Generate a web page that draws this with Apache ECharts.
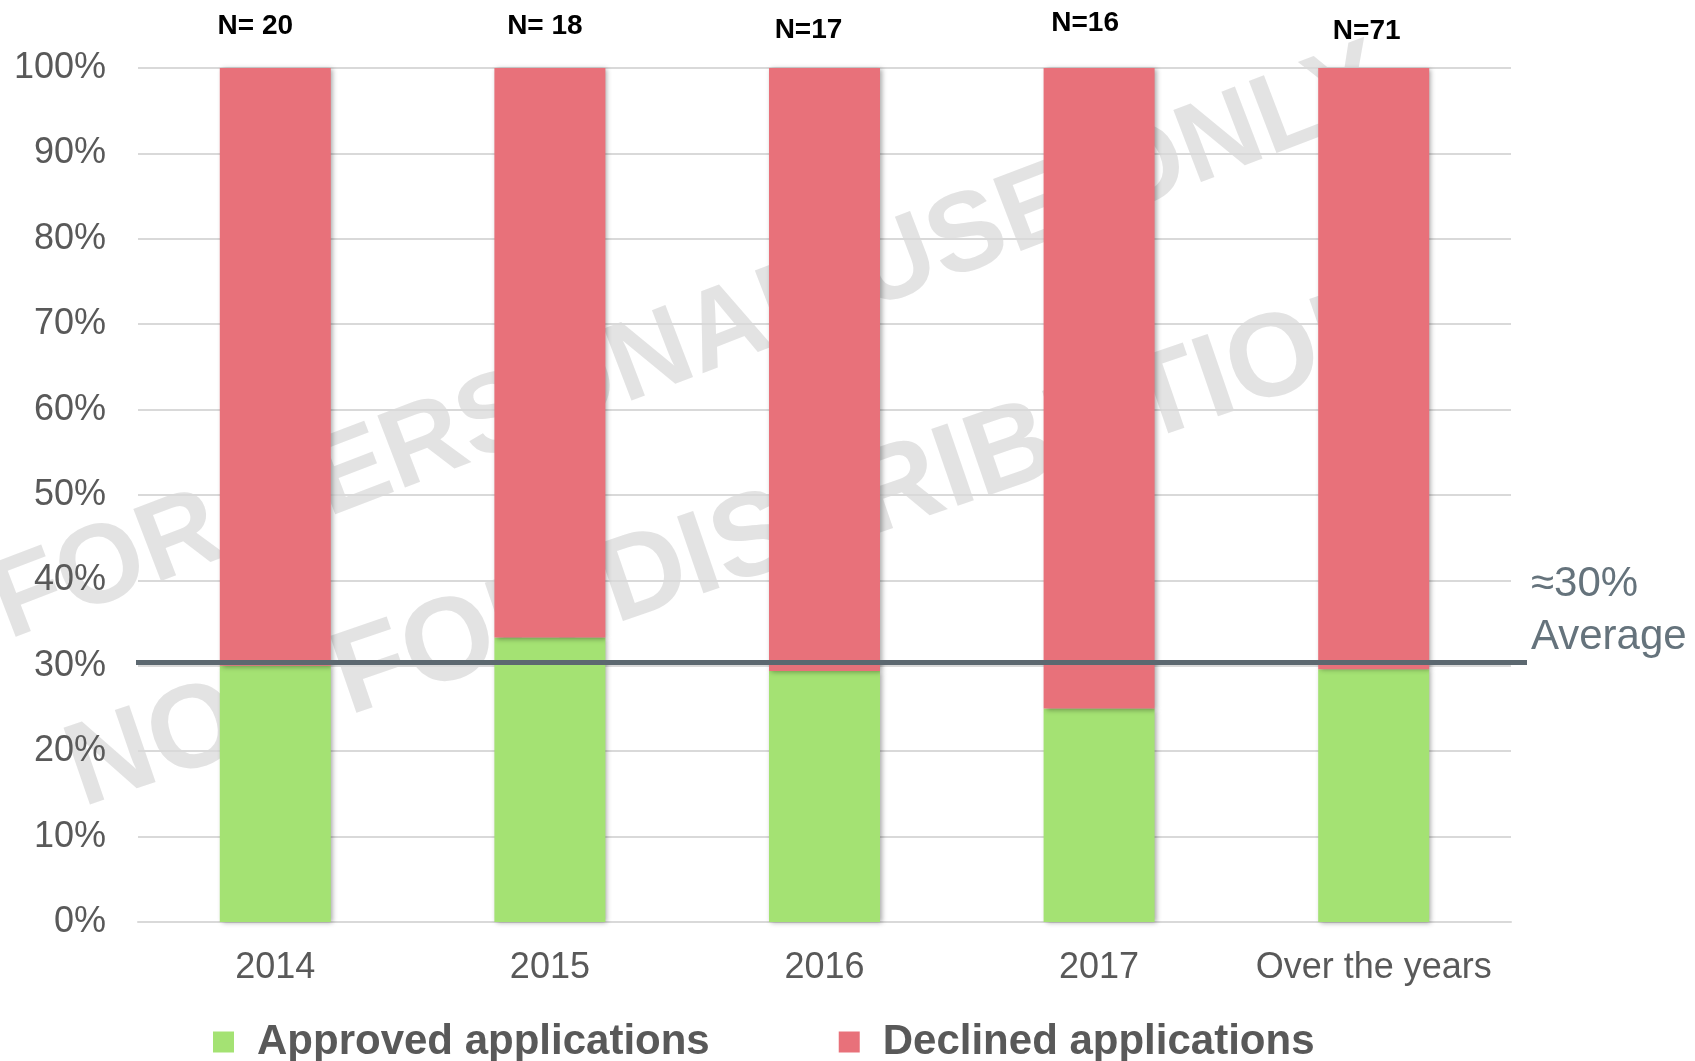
<!DOCTYPE html>
<html>
<head>
<meta charset="utf-8">
<script src="https://cdn.jsdelivr.net/npm/echarts@6/dist/echarts.min.js"></script>
<style>
  html, body { margin: 0; padding: 0; background: #ffffff; }
  #chart { width: 1695px; height: 1061px; }
</style>
</head>
<body>
<div id="chart"></div>
<script>
// ---- data ----
var categories = ['2014', '2015', '2016', '2017', 'Over the years'];
var approved = [30, 33.3, 29.4, 25, 29.6];
var declined = [70, 66.7, 70.6, 75, 70.4];
var sampleLabels = ['N= 20', 'N= 18', 'N=17', 'N=16', 'N=71'];
var averageValue = 30.4;
var averageLabel = ['\u224830%', 'Average'];
var seriesNames = ['Approved applications', 'Declined applications'];
var watermarkLines = ['FOR PERSONAL USE ONLY', 'NOT FOR DISTRIBUTION'];

// ---- styling / layout (not data) ----
var FONT = '"Liberation Sans", Arial, Helvetica, sans-serif';
var GREEN = '#a4e273';
var RED = '#e8717a';
var GRIDC = '#d9d9d9';
var TEXTC = '#595959';
var LINEC = '#5c6870';
var nLabelOffsets = [[-20, -28], [-5, -28], [-16, -24], [-14, -31], [-7, -23]];

var chart = echarts.init(document.getElementById('chart'), null, { renderer: 'canvas' });

var barShadow = {
  shadowColor: 'rgba(0,0,0,0.35)',
  shadowBlur: 5,
  shadowOffsetX: 2,
  shadowOffsetY: 1
};

var declinedData = declined.map(function (v, i) {
  return { value: v, label: { offset: nLabelOffsets[i] } };
});

var avgData = [[0, averageValue], [1, averageValue]];

function wm(text, x, y, deg, size) {
  return {
    type: 'text', z: 0, x: x, y: y, rotation: deg * Math.PI / 180,
    style: {
      text: text, font: 'bold ' + size + 'px ' + FONT,
      fill: 'rgba(200,200,200,0.5)', textAlign: 'center', textVerticalAlign: 'middle',
      shadowColor: 'rgba(110,110,110,0.6)', shadowBlur: 16, shadowOffsetX: 4, shadowOffsetY: 5
    }
  };
}

var option = {
  animation: false,
  backgroundColor: '#ffffff',
  textStyle: { fontFamily: FONT },
  graphic: [
    wm(watermarkLines[0], 690, 345, 21, 112),
    wm(watermarkLines[1], 735, 548, 19, 118)
  ],
  grid: [
    { left: 138, right: 184, top: 68, bottom: 139, containLabel: false },
    { left: 136, right: 168, top: 68, bottom: 139, containLabel: false }
  ],
  legend: {
    data: seriesNames,
    left: 208,
    top: 1013,
    itemWidth: 21,
    itemHeight: 21,
    itemGap: 129,
    icon: 'rect',
    textStyle: {
      fontFamily: FONT, fontSize: 42, fontWeight: 'bold', color: TEXTC,
      padding: [0, 0, 0, 18], lineHeight: 48
    }
  },
  xAxis: [
    {
      type: 'category',
      gridIndex: 0,
      data: categories,
      axisLine: { show: true, lineStyle: { color: GRIDC, width: 2 } },
      axisTick: { show: false },
      axisLabel: { interval: 0, fontFamily: FONT, fontSize: 36, color: TEXTC, margin: 28 }
    },
    {
      type: 'value', gridIndex: 1, min: 0, max: 1, show: false
    }
  ],
  yAxis: [
    {
      type: 'value',
      gridIndex: 0,
      min: 0,
      max: 100,
      interval: 10,
      axisLine: { show: false },
      axisTick: { show: false },
      axisLabel: { formatter: '{value}%', fontFamily: FONT, fontSize: 36, color: TEXTC, margin: 32 },
      splitLine: { lineStyle: { color: GRIDC, width: 2 } }
    },
    {
      type: 'value', gridIndex: 1, min: 0, max: 100, show: false
    }
  ],
  series: [
    {
      name: seriesNames[0],
      type: 'bar',
      stack: 'total',
      barWidth: 111,
      data: approved,
      itemStyle: Object.assign({ color: GREEN }, barShadow)
    },
    {
      name: seriesNames[1],
      type: 'bar',
      stack: 'total',
      barWidth: 111,
      data: declinedData,
      itemStyle: Object.assign({ color: RED }, barShadow),
      label: {
        show: true,
        position: 'top',
        distance: 0,
        formatter: function (p) { return sampleLabels[p.dataIndex]; },
        fontFamily: FONT,
        fontSize: 28,
        fontWeight: 'bold',
        color: '#000000'
      }
    },
    {
      name: 'average',
      type: 'line',
      xAxisIndex: 1,
      yAxisIndex: 1,
      data: avgData,
      symbol: 'none',
      silent: true,
      z: 5,
      lineStyle: { color: LINEC, width: 5 },
      endLabel: {
        show: true,
        distance: 4,
        offset: [0, -51],
        formatter: function () { return averageLabel.join('\n'); },
        fontFamily: FONT,
        fontSize: 42,
        lineHeight: 53,
        color: '#65737c',
        align: 'left'
      }
    }
  ]
};

chart.setOption(option);
</script>
</body>
</html>
